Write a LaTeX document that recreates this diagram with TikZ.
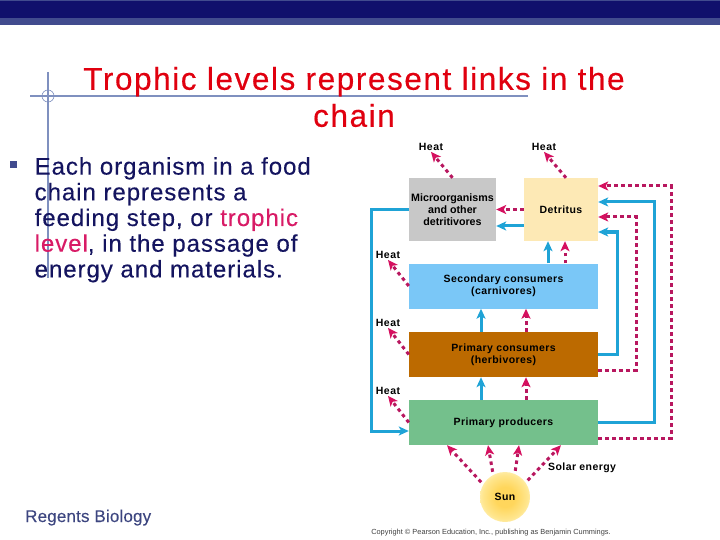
\documentclass[tikz,border=0pt]{standalone}
\usepackage{fontspec}
\setmainfont{Liberation Sans}
\usepackage{xcolor}
\usetikzlibrary{positioning,arrows.meta,shapes.geometric}
\definecolor{navybar}{HTML}{10106C}
\definecolor{navylow}{HTML}{414B8E}
\definecolor{guide}{HTML}{7F90BF}
\definecolor{titlered}{HTML}{E0000F}
\definecolor{bodynavy}{HTML}{14145F}
\definecolor{keypink}{HTML}{D81B66}
\definecolor{footgray}{HTML}{3D4680}
\definecolor{flowblue}{HTML}{1FA3D6}
\definecolor{heatpink}{HTML}{B8175F}
\definecolor{tippink}{HTML}{D5105F}
\definecolor{microfill}{HTML}{C8C8C8}
\definecolor{detfill}{HTML}{FDE9B5}
\definecolor{secfill}{HTML}{7AC7F7}
\definecolor{pcfill}{HTML}{BC6A00}
\definecolor{ppfill}{HTML}{74C08C}
\pgfdeclareradialshading{sunglow}{\pgfpointorigin}{rgb(0bp)=(1,0.84,0.36); rgb(10bp)=(1,0.84,0.36); rgb(22bp)=(1,0.9,0.55); rgb(30bp)=(1,0.96,0.78); rgb(50bp)=(1,0.98,0.88)}
\newfontfamily\titlefont[LetterSpace=5,FakeBold=0.4]{Liberation Sans}
\newfontfamily\spacedfont[LetterSpace=4,FakeBold=0.3]{Liberation Sans}
\newfontfamily\footfont[LetterSpace=1,FakeBold=0.2]{Liberation Sans}
\newfontfamily\labfont[LetterSpace=4]{Liberation Sans}
\begin{document}
\begin{tikzpicture}[x=1pt, y=-1pt,
  box/.style={inner sep=0pt, align=center, font=\fontsize{10.5}{12}\selectfont\labfont\bfseries},
  lab/.style={inner sep=1pt, font=\fontsize{10.5}{12}\selectfont\labfont\bfseries},
  matter/.style={flowblue, line width=3pt, -{Stealth[length=10pt, width=9pt, inset=2.5pt, color=flowblue]}},
  energy/.style={heatpink, line width=3pt, dash pattern=on 3.5pt off 3.5pt, -{Stealth[length=10pt, width=9pt, inset=2.5pt, color=tippink]}}]
\useasboundingbox (0,0) rectangle (720,540);
% slide frame
\fill[navylow] (0,0) rectangle (720,24.7);
\fill[navybar] (0,1) rectangle (720,18);
\draw[guide, line width=1.3pt] (30,96) -- (528,96);
\draw[guide, line width=1.3pt] (48,72) -- (48,278);
\draw[guide, line width=0.6pt] (48,96) circle (6);
\node[align=center, text=titlered, inner sep=0pt, font=\fontsize{31.5}{37}\selectfont\titlefont] (title) at (354,97) {Trophic levels represent links in the\\chain};
\fill[navylow] (10,161) rectangle (17,168);
\node[anchor=north west, align=left, text=bodynavy, inner sep=0pt, font=\fontsize{24}{25.7}\selectfont\spacedfont] (body) at (34.5,157) {Each organism in a food\\chain represents a\\feeding step, or \textcolor{keypink}{trophic}\\\textcolor{keypink}{level}, in the passage of\\energy and materials.};
\node[anchor=base west, text=footgray, inner sep=0pt, font=\fontsize{17}{20}\selectfont\footfont] (foot) at (25,522) {Regents Biology};
% levels
\node[box, fill=microfill, minimum width=87pt, minimum height=63pt, font=\fontsize{10.7}{12}\selectfont\bfseries] (micro) at (452.5,209.5) {Microorganisms\\and other\\detritivores};
\node[box, fill=detfill, minimum width=74pt, minimum height=63pt] (det) at (561,209.5) {Detritus};
\node[box, fill=secfill, minimum width=189pt, minimum height=45pt] (sec) at (503.5,286) {Secondary consumers\\(carnivores)};
\node[box, fill=pcfill, minimum width=189pt, minimum height=45pt] (pc) at (503.5,354.5) {Primary consumers\\(herbivores)};
\node[box, fill=ppfill, minimum width=189pt, minimum height=45pt] (pp) at (503.5,422.5) {Primary producers};
\node[circle, inner sep=0pt, minimum size=50pt, shading=sunglow, font=\fontsize{10.5}{12}\selectfont\labfont\bfseries] (sun) at (505,497) {Sun};
% labels
\node[lab] (heatmicro) at (431,147) {Heat};
\node[lab] (heatdet) at (544,147) {Heat};
\node[lab] (heatsec) at (388,255) {Heat};
\node[lab] (heatpc) at (388,323) {Heat};
\node[lab] (heatpp) at (388,391) {Heat};
\node[lab, anchor=west] (solar) at (547,468) {Solar energy};
\node[inner sep=0pt, text=black!75, font=\fontsize{7.4}{8}\selectfont] (copy) at (491,532.5) {Copyright © Pearson Education, Inc., publishing as Benjamin Cummings.};
% heat
\draw[energy] (micro.north) -- (heatmicro.south);
\draw[energy] ([xshift=5pt]det.north) -- (heatdet.south);
\draw[energy] (sec.west) -- (heatsec.south);
\draw[energy] (pc.west) -- (heatpc.south);
\draw[energy] (pp.west) -- (heatpp.south);
% up the chain
\draw[matter] ([xshift=44.5pt]sec.north) -- ([xshift=-13pt]det.south);
\draw[energy] ([xshift=61.5pt]sec.north) -- ([xshift=4pt]det.south);
\draw[matter] ([xshift=-22.5pt]pc.north) -- ([xshift=-22.5pt]sec.south);
\draw[energy] ([xshift=22.5pt]pc.north) -- ([xshift=22.5pt]sec.south);
\draw[matter] ([xshift=-22.5pt]pp.north) -- ([xshift=-22.5pt]pc.south);
\draw[energy] ([xshift=22.5pt]pp.north) -- ([xshift=22.5pt]pc.south);
% detritus to microorganisms
\draw[energy] (det.west) -- (micro.east);
\draw[matter] ([yshift=-16.5pt]det.west) -- ([yshift=-16.5pt]micro.east);
% loops
\coordinate (backleft) at (371,431);
\coordinate (backpc) at (617,232);
\coordinate (wastepc) at (636,217);
\coordinate (backpp) at (654,202);
\coordinate (wastepp) at (671,186);
\draw[matter] (micro.west) -| (backleft) -- ([yshift=-8.5pt]pp.west);
\draw[matter] (pc.east) -| (backpc) -- ([yshift=-22.5pt]det.east);
\draw[energy] ([yshift=-15.5pt]pc.east) -| (wastepc) -- ([yshift=-7.5pt]det.east);
\draw[matter] (pp.east) -| (backpp) -- ([yshift=7.5pt]det.east);
\draw[energy] ([yshift=-15.5pt]pp.east) -| (wastepp) -- ([yshift=23.5pt]det.east);
% sunlight
\foreach \ang/\dx in {150/-56.5, 118/-15.5, 67/15.5, 35/57.5} {
  \draw[energy, shorten <=3pt] (sun.\ang) -- ([xshift=\dx pt]pp.south);
}
\end{tikzpicture}
\end{document}
